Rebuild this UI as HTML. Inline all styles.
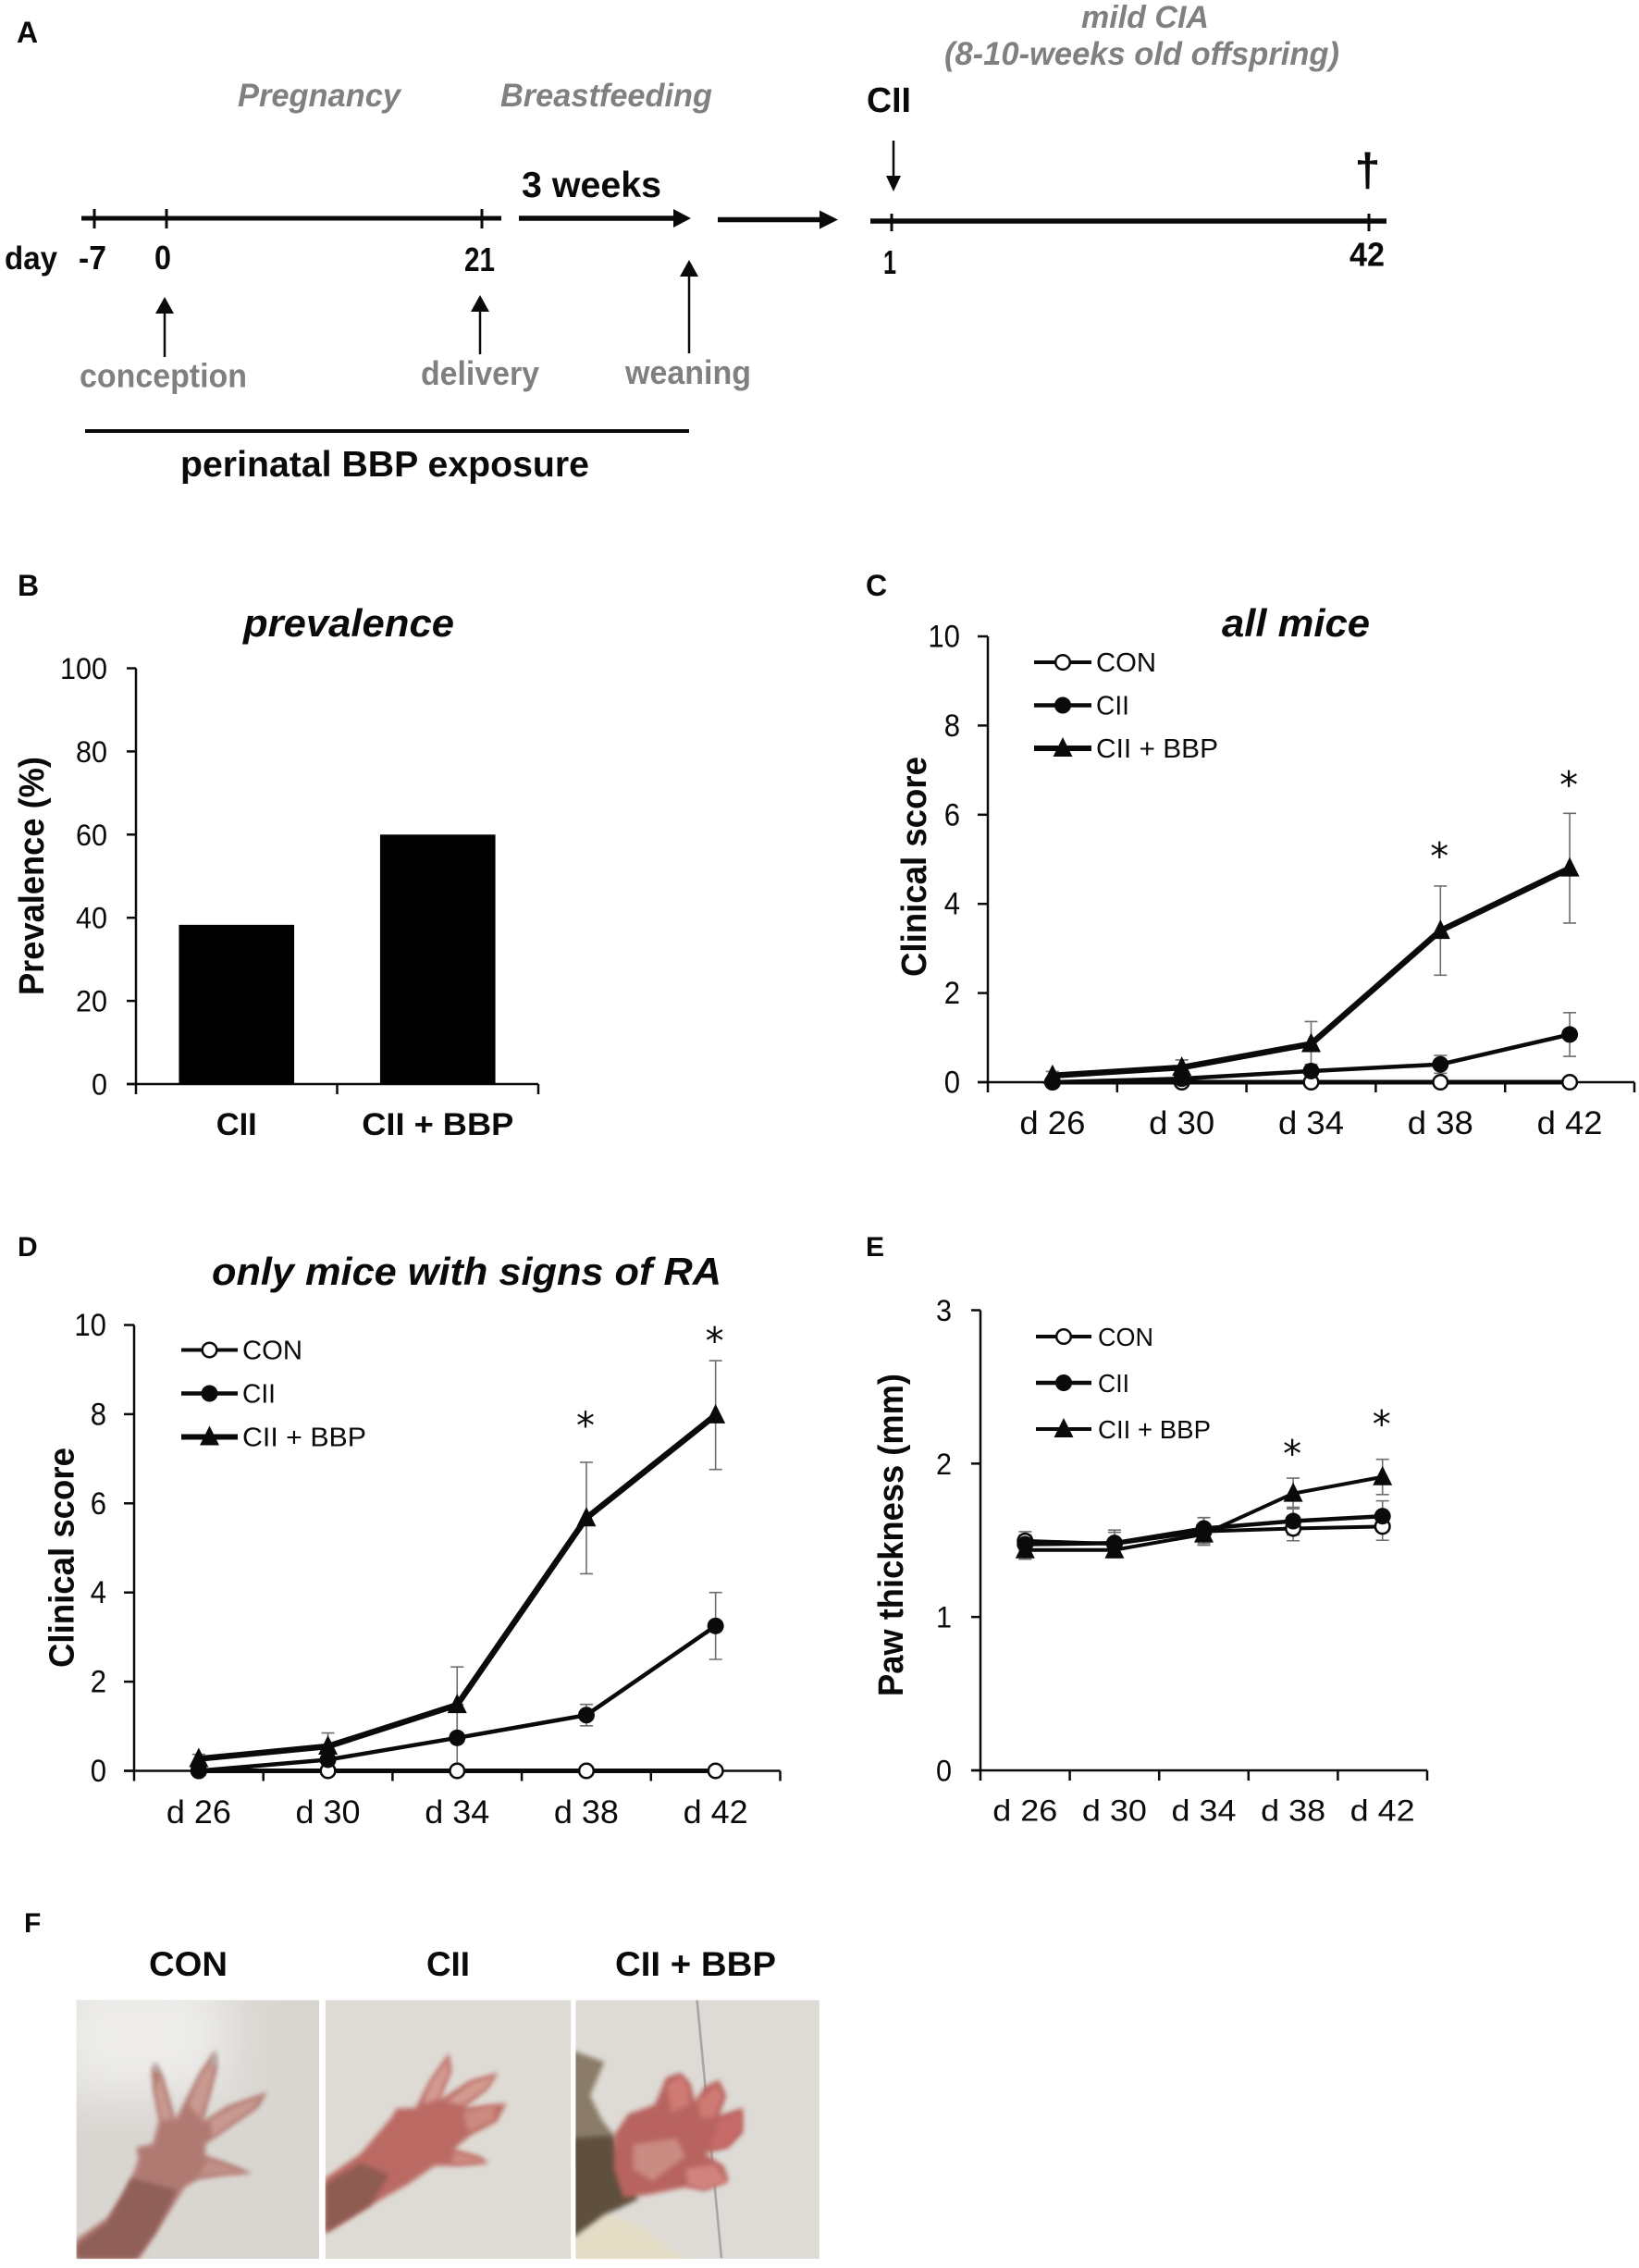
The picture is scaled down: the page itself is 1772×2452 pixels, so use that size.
<!DOCTYPE html>
<html lang="en">
<head>
<meta charset="utf-8">
<title>Perinatal BBP exposure and mild CIA</title>
<style>
html,body{margin:0;padding:0;background:#fff;}
svg{display:block;}
text{font-family:"Liberation Sans",Arial,sans-serif;fill:#0a0a0a;}
.b{font-weight:bold;}
.g{fill:#808080;font-weight:bold;}
.gi{fill:#808080;font-weight:bold;font-style:italic;}
</style>
</head>
<body>
<svg id="fig" xmlns="http://www.w3.org/2000/svg" width="1772" height="2452" viewBox="0 0 1772 2452">
<rect width="1772" height="2452" fill="#fff"/>

<g id="panel-a">
<text class="b" x="18" y="46" font-size="32">A</text>
<text class="gi" x="257" y="115" font-size="35" textLength="176" lengthAdjust="spacingAndGlyphs">Pregnancy</text>
<text class="gi" x="541" y="115" font-size="35" textLength="229" lengthAdjust="spacingAndGlyphs">Breastfeeding</text>
<text class="gi" x="1169" y="30" font-size="34" textLength="138" lengthAdjust="spacingAndGlyphs">mild CIA</text>
<text class="gi" x="1021" y="70" font-size="35" textLength="427" lengthAdjust="spacingAndGlyphs">(8-10-weeks old offspring)</text>
<text class="b" x="937" y="121" font-size="38" textLength="48" lengthAdjust="spacingAndGlyphs">CII</text>
<text class="b" x="564" y="213" font-size="39" textLength="151" lengthAdjust="spacingAndGlyphs">3 weeks</text>

<g stroke="#0a0a0a" fill="none">
<line x1="88" y1="236" x2="542" y2="236" stroke-width="5"/>
<line x1="102" y1="226" x2="102" y2="247" stroke-width="3"/>
<line x1="180" y1="226" x2="180" y2="247" stroke-width="3"/>
<line x1="521" y1="226" x2="521" y2="247" stroke-width="3"/>
</g>
<line x1="561" y1="236" x2="732" y2="236" stroke="#0a0a0a" stroke-width="5.5"/>
<polygon points="728,226 747,236 728,246" fill="#0a0a0a"/>
<line x1="776" y1="237.5" x2="890" y2="237.5" stroke="#0a0a0a" stroke-width="5.5"/>
<polygon points="886,227.5 906,237.5 886,247.5" fill="#0a0a0a"/>
<g stroke="#0a0a0a" fill="none">
<line x1="941" y1="239" x2="1499" y2="239" stroke-width="5.5"/>
<line x1="964" y1="231" x2="964" y2="250" stroke-width="3"/>
<line x1="1480" y1="231" x2="1480" y2="250" stroke-width="3"/>
</g>
<line x1="966" y1="152" x2="966" y2="192" stroke="#0a0a0a" stroke-width="2.5"/>
<polygon points="958,190 974,190 966,207" fill="#0a0a0a"/>
<text class="b" x="1478.5" y="201" font-size="50" text-anchor="middle">†</text>

<text class="b" x="5" y="291" font-size="35" textLength="57" lengthAdjust="spacingAndGlyphs">day</text>
<text class="b" x="85" y="291" font-size="36" textLength="30" lengthAdjust="spacingAndGlyphs">-7</text>
<text class="b" x="167" y="291" font-size="36" textLength="18" lengthAdjust="spacingAndGlyphs">0</text>
<text class="b" x="502" y="293" font-size="36" textLength="33" lengthAdjust="spacingAndGlyphs">21</text>
<text class="b" x="955" y="296" font-size="36" textLength="14" lengthAdjust="spacingAndGlyphs">1</text>
<text class="b" x="1459" y="287.5" font-size="36" textLength="38" lengthAdjust="spacingAndGlyphs">42</text>

<line x1="178" y1="337" x2="178" y2="386" stroke="#0a0a0a" stroke-width="2.5"/>
<polygon points="168,339 188,339 178,321" fill="#0a0a0a"/>
<line x1="519" y1="335" x2="519" y2="383" stroke="#0a0a0a" stroke-width="2.5"/>
<polygon points="509,337 529,337 519,319" fill="#0a0a0a"/>
<line x1="745" y1="297" x2="745" y2="382" stroke="#0a0a0a" stroke-width="2.5"/>
<polygon points="735,299 755,299 745,281" fill="#0a0a0a"/>
<text class="g" x="86" y="418.5" font-size="36" textLength="181" lengthAdjust="spacingAndGlyphs">conception</text>
<text class="g" x="455" y="416" font-size="36" textLength="128" lengthAdjust="spacingAndGlyphs">delivery</text>
<text class="g" x="676" y="415" font-size="36" textLength="136" lengthAdjust="spacingAndGlyphs">weaning</text>
<line x1="92" y1="466" x2="745" y2="466" stroke="#0a0a0a" stroke-width="4"/>
<text class="b" x="195" y="515" font-size="39" textLength="442" lengthAdjust="spacingAndGlyphs">perinatal BBP exposure</text>
</g>

<text class="b" x="19" y="644" font-size="32">B</text>
<text class="b" x="936" y="644" font-size="32">C</text>
<text class="b" x="19" y="1358" font-size="30">D</text>
<text class="b" x="936" y="1358" font-size="30">E</text>
<text class="b" x="26" y="2089" font-size="30">F</text>

<g id="charts"></g>

<g id="panel-f">
<defs>
<filter id="soft" x="-30%" y="-30%" width="160%" height="160%"><feGaussianBlur stdDeviation="5 8"/></filter>
<filter id="softer" x="-60%" y="-60%" width="220%" height="220%"><feGaussianBlur stdDeviation="55 80"/></filter>
<clipPath id="clip1"><rect x="5" y="7" width="508" height="848"/></clipPath>
<clipPath id="clip2"><rect x="526" y="7" width="514" height="848"/></clipPath>
<clipPath id="clip3"><rect x="1050" y="7" width="510" height="848"/></clipPath>
</defs>
<text class="b" x="161" y="2136" font-size="37" textLength="85" lengthAdjust="spacingAndGlyphs">CON</text>
<text class="b" x="461" y="2136" font-size="37" textLength="47" lengthAdjust="spacingAndGlyphs">CII</text>
<text class="b" x="665" y="2136" font-size="37" textLength="174" lengthAdjust="spacingAndGlyphs">CII + BBP</text>
<g transform="translate(80,2160) scale(0.5166,0.33)">
<g clip-path="url(#clip1)">
<rect x="5" y="7" width="508" height="848" fill="#d9d6d1"/>
<rect x="-40" y="-80" width="360" height="400" fill="#eeedeb" filter="url(#softer)"/>
<polygon filter="url(#soft)" fill="#b07a72" points="5,790 70,720 105,640 128,560 135,525 130,490 165,478 178,400 165,300 162,240 170,212 185,250 200,330 212,400 235,330 265,240 295,172 300,230 285,320 270,405 320,355 405,308 385,360 330,420 275,480 275,515 320,540 375,575 320,580 260,595 232,620 200,700 135,855 5,855"/>
<polygon filter="url(#soft)" fill="#c99a90" points="170,300 180,250 195,330 205,400 182,400"/>
<polygon filter="url(#soft)" fill="#c99a90" points="262,260 292,200 292,250 278,330 265,395 240,350"/>
<polygon filter="url(#soft)" fill="#c99a90" points="285,400 330,360 390,325 375,360 325,415 290,455"/>
<polygon filter="url(#soft)" fill="#c08f85" points="280,530 320,550 360,572 310,578 260,585"/>
<polygon filter="url(#soft)" fill="#8f5f58" points="5,810 70,735 120,590 215,630 170,770 130,855 5,855"/>
<polygon filter="url(#soft)" fill="#b7b3ae" points="163,240 170,212 180,240"/>
<polygon filter="url(#soft)" fill="#b7b3ae" points="285,215 297,172 300,225"/>
</g>
<g clip-path="url(#clip2)">
<rect x="526" y="7" width="514" height="848" fill="#dedbd5"/>
<polygon filter="url(#soft)" fill="#bb6b64" points="526,590 600,510 665,390 675,362 715,360 745,270 785,180 790,240 765,335 830,270 888,245 865,300 815,360 905,345 885,405 830,450 795,495 850,520 868,540 810,550 755,550 700,610 620,680 526,770"/>
<polygon filter="url(#soft)" fill="#d39b90" points="745,280 780,205 785,240 762,330 730,350"/>
<polygon filter="url(#soft)" fill="#d39b90" points="780,340 830,280 880,255 860,300 812,350"/>
<polygon filter="url(#soft)" fill="#cc8b80" points="815,375 880,350 880,400 825,440"/>
<polygon filter="url(#soft)" fill="#cc8b80" points="795,505 850,525 860,540 790,545"/>
<polygon filter="url(#soft)" fill="#8f5b53" points="526,610 600,540 660,580 620,680 526,770"/>
</g>
<g clip-path="url(#clip3)">
<rect x="1050" y="7" width="510" height="848" fill="#dedbd6"/>
<line x1="1304" y1="7" x2="1355" y2="852" stroke="#a4a6a7" stroke-width="5"/>
<polygon filter="url(#soft)" fill="#e4ddc6" points="1040,770 1110,705 1180,740 1280,860 1040,860"/>
<polygon filter="url(#soft)" fill="#8a7c68" points="1040,170 1110,210 1080,320 1105,400 1130,450 1060,560 1040,560"/>
<polygon filter="url(#soft)" fill="#5f4f3e" points="1040,460 1130,450 1180,660 1140,690 1110,710 1040,790"/>
<polygon filter="url(#soft)" fill="#b8635f" points="1130,450 1160,380 1215,350 1240,260 1270,245 1290,280 1300,340 1320,290 1350,268 1365,320 1350,385 1400,360 1400,440 1370,490 1320,510 1360,550 1370,600 1320,630 1280,620 1200,645 1150,655 1130,560"/>
<polygon filter="url(#soft)" fill="#d2837e" points="1280,560 1340,545 1368,600 1320,630 1285,615"/>
<polygon filter="url(#soft)" fill="#d07a75" points="1240,285 1270,255 1285,295 1288,350 1250,375"/>
<polygon filter="url(#soft)" fill="#d07a75" points="1305,340 1345,285 1358,320 1338,395 1312,390"/>
<polygon filter="url(#soft)" fill="#c66b68" points="1350,400 1395,375 1395,440 1362,490 1330,495"/>
<polygon filter="url(#soft)" fill="#c98b82" points="1170,480 1260,460 1280,520 1210,600 1170,560"/>
</g>
</g>
</g>
</svg>

<script>
/* shared categories */
const dayLabels = ['d 26', 'd 30', 'd 34', 'd 38', 'd 42'];

/* panel B */
const prevGroups = ['CII', 'CII + BBP'];
const prevValues = [38.3, 60];
const prevTicks = [0, 20, 40, 60, 80, 100];

/* panel C */
const scoreTicks = [0, 2, 4, 6, 8, 10];
const cCon = [0, 0, 0, 0, 0];
const cCii = [0, 0.08, 0.25, 0.4, 1.07];
const cBbp = [0.15, 0.33, 0.86, 3.4, 4.8];
const cCiiErr = [0.03, 0.06, 0.15, 0.2, 0.49];
const cBbpErr = [0.09, 0.17, 0.5, 1.0, 1.23];
const cStars = ['', '', '', '*', '*'];
const cStarValues = [0, 0, 0, 4.78, 6.38];

/* panel D */
const dCon = [0, 0, 0, 0, 0];
const dCii = [0, 0.25, 0.74, 1.25, 3.25];
const dBbp = [0.27, 0.55, 1.48, 5.67, 7.98];
const dCiiErr = [0.05, 0.12, 0.75, 0.24, 0.75];
const dBbpErr = [0.1, 0.3, 0.85, 1.25, 1.22];
const dStars = ['', '', '', '*', '*'];
const dStarValues = [0, 0, 0, 7.46, 9.36];

/* panel E */
const pawTicks = [0, 1, 2, 3];
const eCon = [1.496, 1.477, 1.558, 1.577, 1.59];
const eCii = [1.474, 1.482, 1.577, 1.625, 1.657];
const eBbp = [1.437, 1.437, 1.54, 1.805, 1.913];
const eConErr = [0.06, 0.09, 0.09, 0.08, 0.09];
const eCiiErr = [0.06, 0.07, 0.07, 0.09, 0.1];
const eBbpErr = [0.06, 0.04, 0.06, 0.1, 0.115];
const eStars = ['', '', '', '*', '*'];
const eStarValues = [0, 0, 0, 1.98, 2.175];

const NS = 'http://www.w3.org/2000/svg';
const root = document.getElementById('charts');

function mk(tag, attrs, parent, txt) {
  const el = document.createElementNS(NS, tag);
  for (const k in attrs) el.setAttribute(k, attrs[k]);
  if (txt !== undefined) el.textContent = txt;
  (parent || root).appendChild(el);
  return el;
}

function drawAxes(g, frame, cats, ticks, yMax, labelStyle) {
  const yOf = v => frame.y0 - (v / yMax) * (frame.y0 - frame.yTop);
  const band = (frame.x1 - frame.x0) / cats.length;
  const xOf = i => frame.x0 + (i + 0.5) * band;
  const yAxis = mk('line', {x1: frame.x0, y1: frame.yTop, x2: frame.x0, y2: frame.y0, stroke: '#0a0a0a', 'stroke-width': 2.5}, g);
  
  
  const xAxis = mk('line', {x1: frame.x0 - frame.tickL, y1: frame.y0, x2: frame.x1, y2: frame.y0, stroke: '#0a0a0a', 'stroke-width': 2.5}, g);
  
  
  ticks.forEach(t => {
    const tk = mk('line', {x1: frame.x0 - frame.tickL, y1: yOf(t), x2: frame.x0, y2: yOf(t), stroke: '#0a0a0a', 'stroke-width': 2.5}, g);
    
    
    const s = String(t);
    const lb = mk('text', {x: frame.yLabelX, y: yOf(t) + 11.5, 'font-size': frame.yTickSize, 'text-anchor': 'end',
      textLength: s.length * frame.yTickCharW, lengthAdjust: 'spacingAndGlyphs'}, g, s);
    
    
  });
  for (let i = 0; i <= cats.length; i++) {
    const xt = frame.x0 + i * band;
    const tk = mk('line', {x1: xt, y1: frame.y0, x2: xt, y2: frame.y0 + 11, stroke: '#0a0a0a', 'stroke-width': 2.5}, g);
    
    
  }
  cats.forEach((c, i) => {
    const attrs = {x: xOf(i) + labelStyle.dx, y: labelStyle.y, 'font-size': labelStyle.size, 'text-anchor': 'middle'};
    if (labelStyle.bold) attrs['font-weight'] = 'bold';
    if (labelStyle.lens) { attrs.textLength = labelStyle.lens[i]; attrs.lengthAdjust = 'spacingAndGlyphs'; }
    const lb = mk('text', attrs, g, c);
    
    
  });
  return {xOf, yOf, band};
}

function yTitle(g, txt, x, yBottom, len) {
  const t = mk('text', {x: 0, y: 0, 'font-size': 38, 'font-weight': 'bold', textLength: len, lengthAdjust: 'spacingAndGlyphs',
    transform: 'translate(' + x + ',' + yBottom + ') rotate(-90)'}, g, txt);
  
  
}

function chartTitle(g, txt, x, y, len) {
  const t = mk('text', {x: x, y: y, 'font-size': 42, 'font-weight': 'bold', 'font-style': 'italic', textLength: len, lengthAdjust: 'spacingAndGlyphs'}, g, txt);
  
  
}

function marker(g, kind, cx, cy) {
  if (kind === 'tri') {
    return mk('polygon', {points: (cx - 10.5) + ',' + (cy + 9) + ' ' + (cx + 10.5) + ',' + (cy + 9) + ' ' + cx + ',' + (cy - 12), fill: '#0a0a0a'}, g);
  }
  if (kind === 'open') {
    return mk('circle', {cx: cx, cy: cy, r: 7.8, fill: '#fff', stroke: '#0a0a0a', 'stroke-width': 2.5}, g);
  }
  return mk('circle', {cx: cx, cy: cy, r: 9, fill: '#0a0a0a'}, g);
}

function errorBars(g, axes, vals, errs, capHalf) {
  vals.forEach((v, i) => {
    if (!errs) return;
    const x = axes.xOf(i);
    const hi = axes.yOf(v + errs[i]);
    const lo = axes.yOf(Math.max(v - errs[i], 0));
    const e = mk('path', {d: 'M' + x + ' ' + hi + 'V' + lo + 'M' + (x - capHalf) + ' ' + hi + 'H' + (x + capHalf) + 'M' + (x - capHalf) + ' ' + lo + 'H' + (x + capHalf),
      stroke: '#6e6e6e', 'stroke-width': 1.6, fill: 'none'}, g);
    
    
  });
}

function series(g, axes, vals, kind, width, name) {
  const pts = vals.map((v, i) => axes.xOf(i) + ',' + axes.yOf(v)).join(' ');
  const line = mk('polyline', {points: pts, fill: 'none', stroke: '#0a0a0a', 'stroke-width': width, 'stroke-linejoin': 'round'}, g);
  
  
  vals.forEach((v, i) => {
    const m = marker(g, kind, axes.xOf(i), axes.yOf(v));
    
    
  });
}

function stars(g, axes, marks, vals) {
  marks.forEach((s, i) => {
    if (!s) return;
    const t = mk('text', {x: axes.xOf(i) - 1, y: axes.yOf(vals[i]), 'font-size': 40, 'text-anchor': 'middle', style: 'font-family:"DejaVu Sans",sans-serif'}, g, s);
    
    
  });
}

function legend(g, lg) {
  const rows = [['CON', 'open', 4, lg.conLen], ['CII', 'fill', 4.5, lg.ciiLen], ['CII + BBP', 'tri', lg.bbpWidth, lg.bbpLen]];
  rows.forEach((r, i) => {
    const y = lg.y0 + i * lg.step;
    const l = mk('line', {x1: lg.x1, y1: y, x2: lg.x2, y2: y, stroke: '#0a0a0a', 'stroke-width': r[2]}, g);
    
    
    const m = marker(g, r[1], (lg.x1 + lg.x2) / 2, y);
    
    
    const t = mk('text', {x: lg.tx, y: y + 10, 'font-size': lg.size, textLength: r[3], lengthAdjust: 'spacingAndGlyphs'}, g, r[0]);
    
    
  });
}

/* ---------- B ---------- */
const gB = mk('g', {});


chartTitle(gB, 'prevalence', 263, 688, 228);
yTitle(gB, 'Prevalence (%)', 47, 1076, 258);
const axB = drawAxes(gB, {x0: 147, x1: 582, y0: 1172, yTop: 722.5, tickL: 10, yLabelX: 116, yTickSize: 32, yTickCharW: 17}, prevGroups, prevTicks, 100,
  {y: 1227, size: 34, bold: true, dx: 0, lens: [44, 164]});
prevValues.forEach((v, i) => {
  const w = axB.band * 0.573;
  const bar = mk('rect', {x: axB.xOf(i) - w / 2, y: axB.yOf(v), width: w, height: axB.yOf(0) - axB.yOf(v), fill: '#000'}, gB);
  
  
});

/* ---------- C ---------- */
const gC = mk('g', {});


chartTitle(gC, 'all mice', 1321, 688, 160);
yTitle(gC, 'Clinical score', 1001, 1056, 238);
const axC = drawAxes(gC, {x0: 1068, x1: 1767, y0: 1170, yTop: 688, tickL: 11, yLabelX: 1038, yTickSize: 34, yTickCharW: 17.3}, dayLabels, scoreTicks, 10,
  {y: 1226, size: 35, dx: 0, lens: [71, 71, 71, 71, 71]});
errorBars(gC, axC, cBbp, cBbpErr, 7);
errorBars(gC, axC, cCii, cCiiErr, 7);
series(gC, axC, cCon, 'open', 5, 'con');
series(gC, axC, cBbp, 'tri', 6.5, 'cii-bbp');
series(gC, axC, cCii, 'fill', 4.5, 'cii');
stars(gC, axC, cStars, cStarValues);
legend(gC, {x1: 1118, x2: 1180, y0: 716, step: 46.5, tx: 1185, size: 29, conLen: 65, ciiLen: 36, bbpLen: 132, bbpWidth: 6});

/* ---------- D ---------- */
const gD = mk('g', {});


chartTitle(gD, 'only mice with signs of RA', 229, 1389, 551);
yTitle(gD, 'Clinical score', 79.5, 1803, 238);
const axD = drawAxes(gD, {x0: 145, x1: 843.5, y0: 1914.5, yTop: 1432.5, tickL: 11, yLabelX: 115, yTickSize: 34, yTickCharW: 17.3}, dayLabels, scoreTicks, 10,
  {y: 1971, size: 35, dx: 0, lens: [70, 70, 70, 70, 70]});
errorBars(gD, axD, dBbp, dBbpErr, 7);
errorBars(gD, axD, dCii, dCiiErr, 7);
series(gD, axD, dCon, 'open', 5, 'con');
series(gD, axD, dBbp, 'tri', 6.5, 'cii-bbp');
series(gD, axD, dCii, 'fill', 4.5, 'cii');
stars(gD, axD, dStars, dStarValues);
legend(gD, {x1: 196, x2: 257, y0: 1459.5, step: 47, tx: 262, size: 29, conLen: 65, ciiLen: 36, bbpLen: 134, bbpWidth: 6});

/* ---------- E ---------- */
const gE = mk('g', {});


yTitle(gE, 'Paw thickness (mm)', 976, 1834, 349);
const axE = drawAxes(gE, {x0: 1060, x1: 1543, y0: 1914, yTop: 1416.5, tickL: 10, yLabelX: 1029, yTickSize: 32, yTickCharW: 17}, dayLabels, pawTicks, 3,
  {y: 1968.5, size: 32, dx: 0, lens: [70, 70, 70, 70, 70]});
errorBars(gE, axE, eCon, eConErr, 7);
errorBars(gE, axE, eCii, eCiiErr, 7);
errorBars(gE, axE, eBbp, eBbpErr, 7);
series(gE, axE, eCon, 'open', 4, 'con');
series(gE, axE, eBbp, 'tri', 4, 'cii-bbp');
series(gE, axE, eCii, 'fill', 4.5, 'cii');
stars(gE, axE, eStars, eStarValues);
legend(gE, {x1: 1120, x2: 1180, y0: 1445, step: 50, tx: 1187, size: 27.5, conLen: 60, ciiLen: 34, bbpLen: 122, bbpWidth: 4});
</script>
</body>
</html>
